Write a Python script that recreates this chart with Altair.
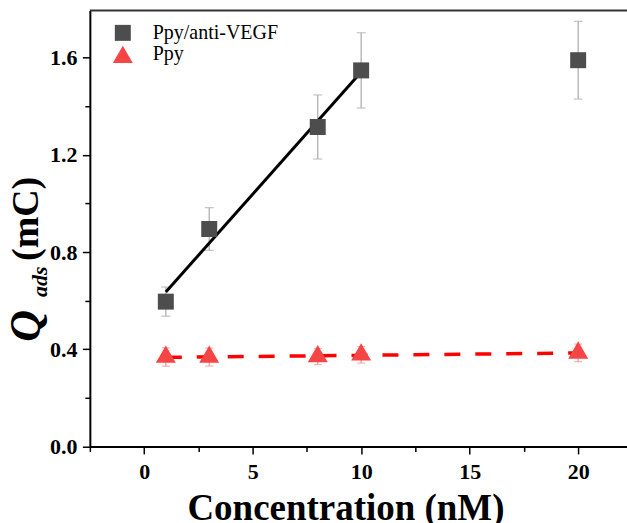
import altair as alt
import pandas as pd

# ---------------- data ----------------
series_names = ["Ppy/anti-VEGF", "Ppy"]
conc = [1, 3, 8, 10, 20]
vegf_q = [0.596, 0.895, 1.315, 1.548, 1.590]
vegf_err = [0.060, 0.088, 0.132, 0.155, 0.160]
ppy_q = [0.368, 0.368, 0.370, 0.377, 0.385]
ppy_err = [0.038, 0.037, 0.033, 0.034, 0.036]
vegf_fit_max = 10  # linear fit of Ppy/anti-VEGF uses 1-10 nM

x_ticks = [-2.5, 0, 2.5, 5, 7.5, 10, 12.5, 15, 17.5, 20]
y_ticks = [0.0, 0.2, 0.4, 0.6, 0.8, 1.0, 1.2, 1.4, 1.6]
x_title = "Concentration (nM)"
y_title_parts = ["Q", "ads", "(mC)"]

# ---------------- table ----------------
rows = []
for name, qs, es in [(series_names[0], vegf_q, vegf_err), (series_names[1], ppy_q, ppy_err)]:
    for c, q, e in zip(conc, qs, es):
        rows.append({"series": name, "conc": c, "q": q, "lo": q - e, "hi": q + e})
df = pd.DataFrame(rows)

FONT = "Liberation Serif"
W, H = 538, 436.7
XDOM = [-2.5, 22.25]
YDOM = [0, 1.795]

xs = alt.Scale(domain=XDOM, nice=False, zero=False)
ys = alt.Scale(domain=YDOM, nice=False, zero=False)

x_axis = alt.Axis(
    values=x_ticks, format="~g",
    labelExpr="datum.value % 5 == 0 ? datum.label : ''",
    title=x_title, titleFont=FONT, titleFontSize=37, titleFontWeight="bold",
    titleX=256, titleY=73.5, titleBaseline="alphabetic", titleAlign="center",
    titleColor="black",
    labelFont=FONT, labelFontSize=22, labelFontWeight="bold", labelColor="black",
    labelPadding=8, grid=False,
    domainColor="black", domainWidth=2, tickColor="black", tickWidth=1.5,
    tickSize={"condition": {"test": "datum.value % 5 == 0", "value": 7.5}, "value": 5},
)
y_axis = alt.Axis(
    values=y_ticks, format=".1f",
    labelExpr="round(datum.value * 10) % 4 == 0 ? datum.label : ''",
    title=None,
    labelFont=FONT, labelFontSize=22, labelFontWeight="bold", labelColor="black",
    labelPadding=5.5, grid=False,
    domainColor="black", domainWidth=2, tickColor="black", tickWidth=1.5,
    tickSize={"condition": {"test": "round(datum.value * 10) % 4 == 0", "value": 7.5}, "value": 5},
)

base = alt.Chart(df)

color_scale = alt.Scale(domain=series_names, range=["#4d4d4d", "#f64545"])
shape_scale = alt.Scale(domain=series_names, range=["square", "triangle-up"])
size_scale = alt.Scale(domain=series_names, range=[256, 400])
legend = alt.Legend(
    orient="none", legendX=23, legendY=12.5, title=None,
    labelFont=FONT, labelFontSize=20, labelFontWeight="normal", labelColor="black",
    symbolStrokeWidth=0, symbolOpacity=1, rowPadding=1.5, labelOffset=20,
)

# frame top line
top_line = alt.Chart(pd.DataFrame({"k": [0]})).mark_rule(
    color="#333333", strokeWidth=2
).encode(x=alt.value(0), x2=alt.value(W), y=alt.value(0))

err_vegf = base.transform_filter(alt.datum.series == series_names[0]).mark_errorbar(
    ticks={"size": 9}, color="#b0b0b0", thickness=1.3
).encode(
    x=alt.X("conc:Q", scale=xs, axis=x_axis),
    y=alt.Y("lo:Q", scale=ys, axis=y_axis),
    y2="hi:Q",
)
err_ppy = base.transform_filter(alt.datum.series == series_names[1]).mark_errorbar(
    ticks={"size": 8}, color="#f59a9a", thickness=1.3
).encode(
    x=alt.X("conc:Q", scale=xs),
    y=alt.Y("lo:Q", scale=ys),
    y2="hi:Q",
)

fit_vegf = base.transform_filter(
    (alt.datum.series == series_names[0]) & (alt.datum.conc <= vegf_fit_max)
).transform_regression("conc", "q", method="linear").mark_line(
    color="black", strokeWidth=3
).encode(x=alt.X("conc:Q", scale=xs), y=alt.Y("q:Q", scale=ys))

fit_ppy = base.transform_filter(alt.datum.series == series_names[1]).transform_regression(
    "conc", "q", method="linear"
).mark_line(color="#ff0000", strokeWidth=3.5, strokeDash=[16, 15]).encode(
    x=alt.X("conc:Q", scale=xs), y=alt.Y("q:Q", scale=ys)
)

pt_enc = dict(
    x=alt.X("conc:Q", scale=xs),
    y=alt.Y("q:Q", scale=ys),
    color=alt.Color("series:N", scale=color_scale, legend=legend),
    shape=alt.Shape("series:N", scale=shape_scale, legend=legend),
    size=alt.Size("series:N", scale=size_scale, legend=legend),
)
pts_vegf = base.transform_filter(alt.datum.series == series_names[0]).mark_point(
    filled=True, opacity=1
).encode(**pt_enc)
pts_ppy = base.transform_filter(alt.datum.series == series_names[1]).mark_point(
    filled=True, opacity=1, yOffset=-2.9
).encode(**pt_enc)

# y-axis title built from pieces (subscript)
def ytext(t, x, y, size, style):
    return alt.Chart(pd.DataFrame({"t": [t]})).mark_text(
        angle=270, align="left", baseline="alphabetic", font=FONT,
        fontSize=size, fontWeight="bold", fontStyle=style, color="black",
    ).encode(text="t:N", x=alt.value(x), y=alt.value(y))

yt_q = ytext(y_title_parts[0], -50, 332, 44, "italic")
yt_sub = ytext(y_title_parts[1], -43, 287, 22, "italic")
yt_unit = ytext(y_title_parts[2], -52, 251, 38, "normal")

chart = alt.layer(
    err_vegf, err_ppy, fit_vegf, fit_ppy, pts_vegf, pts_ppy, top_line,
    yt_q, yt_sub, yt_unit,
).properties(
    width=W, height=H,
    autosize=alt.AutoSizeParams(type="none"),
    padding={"left": 90, "top": 10, "right": 0, "bottom": 76.3},
    background="white",
).configure_view(stroke=None).configure_axis(
    labelFont=FONT, titleFont=FONT, labelFontWeight="bold", labelFontSize=22,
).configure_legend(
    labelFont=FONT, labelFontSize=20, labelFontWeight="normal",
).configure_text(font=FONT)

chart.save("out.html", embed_options={"renderer": "svg", "actions": False})
